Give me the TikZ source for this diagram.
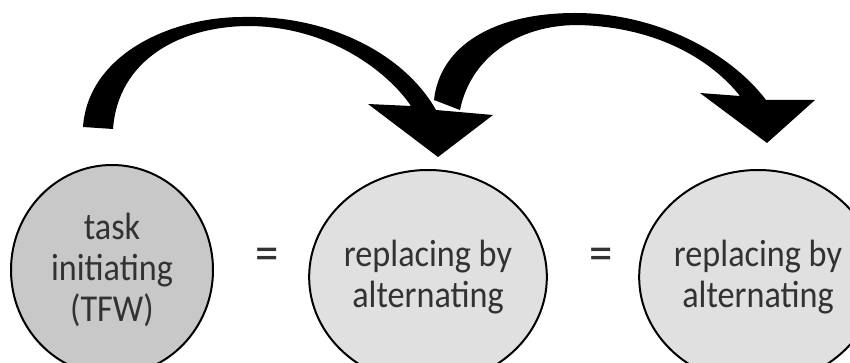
\documentclass[tikz,border=0pt]{standalone}
\usepackage{fontspec}
\setmainfont{Carlito}[FakeStretch=0.9]
\usepackage{xcolor}
\usepackage{tikz}
\usetikzlibrary{shapes.geometric, positioning}
\definecolor{taskgray}{RGB}{200,200,200}
\definecolor{altgray}{RGB}{224,224,224}
\definecolor{textgray}{RGB}{50,50,50}

\begin{document}
\begin{tikzpicture}[
        x=0.5pt, y=-0.5pt,
        state/.style={ellipse, draw, line width=1pt, fill=altgray, text=textgray, minimum width=101pt, minimum height=107pt, inner sep=0pt, align=center, font=\fontsize{19}{20.5}\selectfont},
        equal/.style={text=textgray, font=\fontsize{26}{26}\selectfont, inner sep=0pt},
        jump/.style={fill=black, draw=none}
    ]
        \useasboundingbox (0,0) rectangle (850,363);
        \clip (0,0) rectangle (850,363);

        \node[state, fill=taskgray, minimum height=105pt] (task) at (112,270) {task\\initiating\\(TFW)};
        \node[state] (alt1) at (428,277) {replacing by\\alternating};
        \node[state] (alt2) at (758,277) {replacing by\\alternating};
        \node[equal] (eq1) at (267,259) {=};
        \node[equal] (eq2) at (601,259) {=};

        \fill[jump] (83,127) .. controls (88,55) and (170,17) .. (243,17)
            .. controls (330,15) and (405,55) .. (436,110)
            -- (493,115) -- (438,157) -- (368,104) -- (411,106)
            .. controls (388,72) and (330,27) .. (250,26)
            .. controls (180,26) and (118,60) .. (113,129) -- cycle;
        \fill[jump] (434,100) .. controls (440,45) and (495,13) .. (575,13)
            .. controls (660,13) and (732,55) .. (766,100)
            -- (815,100) -- (767,143) -- (700,93) -- (740,96)
            .. controls (713,62) and (660,27) .. (578,25)
            .. controls (515,25) and (470,60) .. (460,110) -- cycle;
    \end{tikzpicture}
\end{document}
